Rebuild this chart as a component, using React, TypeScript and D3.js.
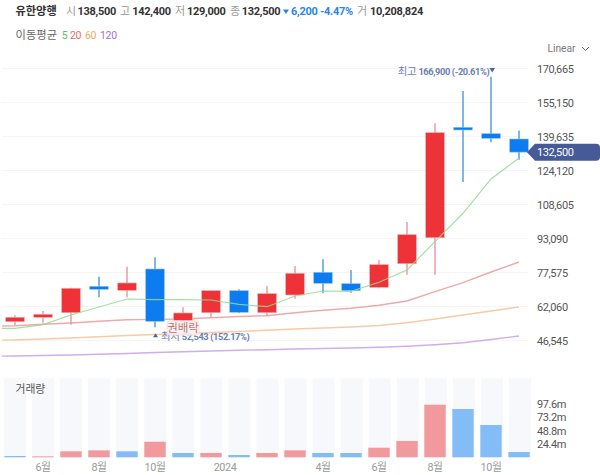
import React from "react";
import * as d3 from "d3";

const months = ["", "5월", "6월", "7월", "8월", "9월", "10월", "11월", "12월", "2024", "2월", "3월", "4월", "5월", "6월", "7월", "8월", "9월", "10월", "11월"];
const candleMonths = months.slice(1);

const opens = [55130, 57138, 59237, 71283, 69458, 79177, 55676, 59237, 69276, 59237, 67313, 77672, 72472, 70826, 81596, 93460, 143835, 140914, 138500];
const highs = [58050, 60013, 70644, 75664, 80227, 84516, 61701, 69400, 69914, 71420, 80546, 83603, 78721, 83284, 100623, 145660, 160399, 166900, 142400];
const lows = [53624, 54674, 53761, 66264, 66264, 52543, 55450, 57138, 58961, 57731, 65625, 68089, 68363, 70370, 76576, 76576, 118875, 136990, 129000];
const closes = [57138, 58507, 70371, 69914, 72789, 55314, 59100, 69276, 59420, 67909, 77215, 72651, 69276, 81140, 94830, 141371, 142603, 138816, 132500];
const volumes = [2.4, 1.8, 11, 12.8, 11, 28.6, 7.9, 7.9, 4.2, 7.9, 12.8, 7.9, 7.9, 17.6, 30, 96.5, 88.6, 59.3, 9.7];
// volume colours do not follow the candle colours in the picture
const volumeUp = [false, true, true, true, false, true, false, true, false, true, true, false, false, true, true, true, false, false, false];

// first value of each average belongs to the month left of the view
const ma5 = [51981, 52119, 53761, 58187, 61838, 65488, 65169, 65169, 65032, 63070, 61975, 66857, 69139, 69002, 73109, 78721, 91634, 104593, 120244, 129827];
const ma20 = [53031, 53305, 53944, 54537, 55313, 56043, 56180, 56362, 56910, 57503, 57868, 59237, 60332, 61245, 62614, 64576, 68819, 72926, 77808, 82371];
const ma60 = [46597, 46780, 47236, 47693, 48286, 48833, 49290, 49746, 50202, 50659, 51252, 51799, 52256, 52712, 53396, 54674, 56362, 58187, 60013, 61838];
const ma120 = [39342, 39479, 39707, 39935, 40256, 40620, 41076, 41441, 41761, 42081, 42357, 42673, 42901, 43130, 43495, 43905, 44590, 45502, 47008, 48605];

const priceTicks = [170665, 155150, 139635, 124120, 108605, 93090, 77575, 62060, 46545];
const volumeTicks = [24.4, 48.8, 73.2, 97.6];
const timeLabels = [
  { month: "6월", idx: 1, dx: 0 },
  { month: "8월", idx: 3, dx: 0 },
  { month: "10월", idx: 5, dx: 0 },
  { month: "2024", idx: 8, dx: -14 },
  { month: "4월", idx: 11, dx: 0 },
  { month: "6월", idx: 13, dx: 0 },
  { month: "8월", idx: 15, dx: 0 },
  { month: "10월", idx: 17, dx: 0 },
];

const lastClose = 132500;
const RED = "#ee3338";
const BLUE = "#0c7cf0";
const FONT = 'Roboto, "Noto Sans CJK KR", sans-serif';

const x = d3.scalePoint<number>().domain(d3.range(-1, 19)).range([-13, 519]);
const xBg = d3.scalePoint<number>().domain(d3.range(19)).range([15, 520]);
const y = d3.scaleLinear().domain([46545, 170665]).range([340.5, 68.5]);
const yVol = d3.scaleLinear().domain([0, 24.4]).range([457.3, 444]);

const maLine = d3
  .line<number>()
  .x((_, i) => x(i - 1) as number)
  .y((d) => y(d));

const averages = [
  { data: ma120, color: "#cdaeee" },
  { data: ma60, color: "#f6cba5" },
  { data: ma20, color: "#efa9ab" },
];

const header = [
  { t: "시", x: 66, c: "#999", w: 400 },
  { t: "138,500", x: 77.5, c: "#333", w: 700 },
  { t: "고", x: 120, c: "#999", w: 400 },
  { t: "142,400", x: 132.3, c: "#333", w: 700 },
  { t: "저", x: 175, c: "#999", w: 400 },
  { t: "129,000", x: 187, c: "#333", w: 700 },
  { t: "종", x: 230, c: "#999", w: 400 },
  { t: "132,500", x: 241.7, c: "#333", w: 700 },
  { t: "6,200", x: 291, c: "#2a86e6", w: 700 },
  { t: "-4.47%", x: 320, c: "#2a86e6", w: 700 },
  { t: "거", x: 357, c: "#999", w: 400 },
  { t: "10,208,824", x: 370, c: "#333", w: 700 },
];

const legend = [
  { t: "5", x: 61.7, c: "#5cc15e" },
  { t: "20", x: 70, c: "#e66a6e" },
  { t: "60", x: 85, c: "#f0a860" },
  { t: "120", x: 100, c: "#a06fe0" },
];

export default function App() {
  const lastY = y(lastClose);
  return (
    <svg
      width={600}
      height={475}
      style={{ position: "fixed", left: 0, top: 0, background: "#fff" }}
      fontFamily={FONT}
    >
      <defs>
        <clipPath id="plot">
          <rect x={2} y={50} width={526} height={320} />
        </clipPath>
      </defs>

      <text x={15.5} y={15} fontSize={11.2} fontWeight={700} fill="#333">유한양행</text>
      {header.map((h) => (
        <text key={h.x} x={h.x} y={15} fontSize={11} letterSpacing={-0.3} fontWeight={h.w} fill={h.c}>{h.t}</text>
      ))}
      <path d="M283 9.5h6l-3 4.5z" fill="#2a86e6" />
      <text x={15.5} y={39} fontSize={11.3} fill="#666">이동평균</text>
      {legend.map((l) => (
        <text key={l.t} x={l.x} y={39} fontSize={10.5} letterSpacing={-0.3} fill={l.c}>{l.t}</text>
      ))}

      <text x={547.5} y={51.5} fontSize={10.2} fill="#777">Linear</text>
      <path d="M582 47l3.5 3.5 3.5-3.5" fill="none" stroke="#666" strokeWidth={1} />

      {priceTicks.map((t) => (
        <g key={t}>
          <line x1={2} x2={528} y1={y(t)} y2={y(t)} stroke="#f5f5f5" />
          <text x={537} y={y(t) + 4} fontSize={11} letterSpacing={-0.4} fill="#555">{d3.format(",")(t)}</text>
        </g>
      ))}

      <g clipPath="url(#plot)" fill="none" strokeWidth={1.4}>
        {averages.map((a) => (
          <path key={a.color} d={maLine(a.data) ?? ""} stroke={a.color} />
        ))}
      </g>

      {candleMonths.map((m, i) => {
        const cx = x(i) as number;
        const up = closes[i] >= opens[i];
        const top = y(Math.max(opens[i], closes[i]));
        const bottom = y(Math.min(opens[i], closes[i]));
        return (
          <g key={`${m}-${i}`}>
            <line
              x1={cx}
              x2={cx}
              y1={y(highs[i])}
              y2={y(lows[i])}
              stroke={up ? "#e58f92" : "#3a90dc"}
              strokeWidth={1.3}
            />
            <rect
              x={cx - 9.3}
              y={top}
              width={18.6}
              height={bottom - top}
              fill={up ? RED : BLUE}
              stroke={up ? "#f6a5a8" : "#8cc2f8"}
              strokeWidth={0.6}
            />
          </g>
        );
      })}
      {/* the 5 day average runs across the candles */}
      <path d={maLine(ma5) ?? ""} clipPath="url(#plot)" fill="none" stroke="#8fdc90" strokeWidth={1.2} opacity={0.85} />

      <text x={397.7} y={74.5} fontSize={9.3} fill="#6a80b4" fontWeight={700} letterSpacing={-0.4}>
        <tspan fontWeight={400} fontSize={10.5}>최고 </tspan>166,900 (-20.61%)
      </text>
      <path d="M489.5 68h5.5l-2.75 4.5z" fill="#4d6398" />

      <path d={`M153 ${y(52543) + 10}h5l-2.5-4z`} fill="#4d6398" />
      <text x={161} y={339.5} fontSize={9.3} fill="#6a80b4" fontWeight={700} letterSpacing={-0.4}>
        <tspan fontWeight={400} fontSize={10.5}>최저 </tspan>52,543 (152.17%)
      </text>
      <rect x={167} y={321} width={32} height={14} rx={3} fill="#fdf0f0" fillOpacity={0.92} stroke="#f6dcdc" />
      <text x={183} y={332} textAnchor="middle" fontSize={11.5} fill="#b87878">권배락</text>

      <path
        d={`M527 ${lastY}l8-8.5h61a4 4 0 0 1 4 4v9a4 4 0 0 1-4 4h-61z`}
        fill="#455a96"
      />
      <text x={537} y={lastY + 4} fontSize={11} letterSpacing={-0.4} fill="#fff">{d3.format(",")(lastClose)}</text>

      {volumes.map((v, i) => (
        <rect key={`bg-${i}`} x={(xBg(i) as number) - 11} y={378.3} width={22} height={79} fill="#f7f8fc" />
      ))}
      {volumes.map((v, i) => (
        <rect
          key={`vol-${i}`}
          x={(x(i) as number) - 10.7}
          y={yVol(v)}
          width={21.4}
          height={yVol(0) - yVol(v)}
          fill={volumeUp[i] ? "#f2999d" : "#84bcf7"}
        />
      ))}
      <text x={15.5} y={393} fontSize={10.8} fill="#555">거래량</text>
      {volumeTicks.map((t) => (
        <text key={t} x={537} y={yVol(t) + 4} fontSize={11} letterSpacing={-0.4} fill="#555">{t}m</text>
      ))}
      {timeLabels.map((l) => (
        <text
          key={`${l.month}-${l.idx}`}
          x={(x(l.idx) as number) + l.dx}
          y={470.5}
          textAnchor="middle"
          fontSize={10.8}
          letterSpacing={-0.4}
          fill="#999"
        >
          {l.month}
        </text>
      ))}
    </svg>
  );
}
